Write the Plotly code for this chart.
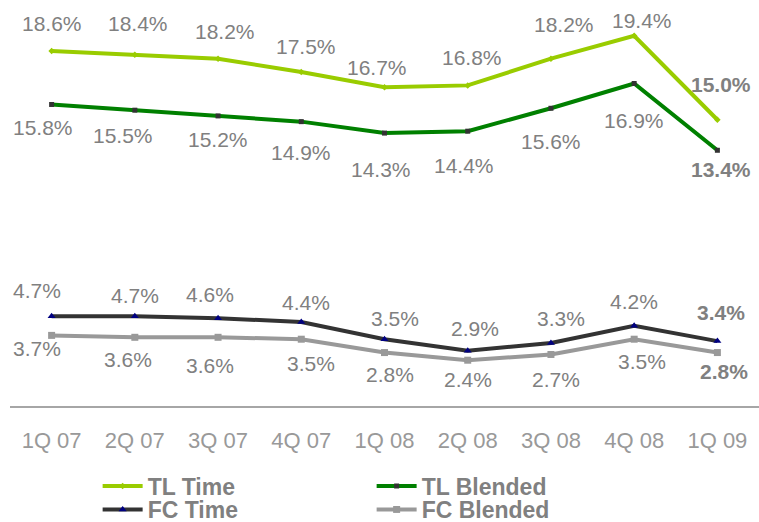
import plotly.graph_objects as go

# ---- data ----
quarters = ["1Q 07", "2Q 07", "3Q 07", "4Q 07", "1Q 08", "2Q 08", "3Q 08", "4Q 08", "1Q 09"]
tl_time = [18.6, 18.4, 18.2, 17.5, 16.7, 16.8, 18.2, 19.4, 15.0]
tl_blended = [15.8, 15.5, 15.2, 14.9, 14.3, 14.4, 15.6, 16.9, 13.4]
fc_time = [4.7, 4.7, 4.6, 4.4, 3.5, 2.9, 3.3, 4.2, 3.4]
fc_blended = [3.7, 3.6, 3.6, 3.5, 2.8, 2.4, 2.7, 3.5, 2.8]

# ---- label placement styles (pixel nudges of the value labels) ----
tl_time_dx = [0, 3, 7, 5, -8, 4, 13, 8, 4]
tl_time_dy = [28, 31, 27, 26, 20, 28, 34, 15, 35]
tl_blended_dx = [-9, -12, 0, 0, -4, -4, 0, 0, 4]
tl_blended_dy = [-23, -25, -24, -31, -36, -34, -33, -37, -19]
fc_time_dx = [-15, 0, -8, 5, 10, 7, 10, 0, 4]
fc_time_dy = [26, 21, 24, 20, 21, 22, 25, 24, 29]
fc_blended_dx = [-15, -7, -8, 10, 5, 0, 5, 8, 7]
fc_blended_dy = [-13, -22, -28, -24, -22, -19, -25, -22, -19]

FONT = "Liberation Sans, Arial, sans-serif"
GRAY = "#808080"

series = [
    # name, values, line color, marker color, symbol, msize, dx, dy, legend
    ("TL Time", tl_time, "#99CC00", "#99CC00", "diamond", 5, tl_time_dx, tl_time_dy, "legend"),
    ("TL Blended", tl_blended, "#008000", "#333333", "square", 5, tl_blended_dx, tl_blended_dy, "legend"),
    ("FC Time", fc_time, "#333333", "#000080", "triangle-up", 7, fc_time_dx, fc_time_dy, "legend2"),
    ("FC Blended", fc_blended, "#999999", "#999999", "square", 7, fc_blended_dx, fc_blended_dy, "legend2"),
]

fig = go.Figure()
annotations = []
for name, vals, lc, mc, sym, ms, dxs, dys, lg in series:
    fig.add_trace(go.Scatter(
        x=quarters, y=vals, name=name, mode="lines+markers",
        line=dict(color=lc, width=4),
        marker=dict(color=mc, symbol=sym, size=ms, line=dict(width=0)),
        hoverinfo="skip", legend=lg,
    ))
    n = len(vals)
    for i, (q, v) in enumerate(zip(quarters, vals)):
        last = i == n - 1
        annotations.append(dict(
            x=q, y=v, xref="x", yref="y",
            text=(f"<b>{v:.1f}%</b>" if last else f"{v:.1f}%"),
            showarrow=False,
            font=dict(family=FONT, size=21, color=GRAY),
            xshift=dxs[i], yshift=dys[i],
        ))

legend_common = dict(
    orientation="h", x=0.117, xanchor="left", yanchor="middle",
    xref="paper", yref="container",
    entrywidth=219, itemwidth=40,
    font=dict(family=FONT, size=23, color=GRAY, weight="bold"),
    bgcolor="rgba(0,0,0,0)",
)

fig.update_layout(
    width=759, height=522,
    margin=dict(l=10, r=0, t=10, b=116, autoexpand=False),
    paper_bgcolor="white", plot_bgcolor="white",
    showlegend=True,
    legend=dict(y=0.069, **legend_common),
    legend2=dict(y=0.024, **legend_common),
    annotations=annotations,
    xaxis=dict(
        type="category", range=[-0.5, 8.5],
        showgrid=False, zeroline=False,
        showline=True, linecolor="#A6A6A6", linewidth=2,
        ticks="", ticklabelstandoff=14,
        tickfont=dict(family=FONT, size=22, color="#999999"),
        fixedrange=True,
    ),
    yaxis=dict(
        range=[0, 20.75], showgrid=False, zeroline=False,
        showline=False, showticklabels=False, ticks="",
        fixedrange=True,
    ),
)

fig.write_html(
    "out.html",
    config={"displayModeBar": False},
    post_script="document.body.style.margin='0';document.body.style.padding='0';document.body.style.overflow='hidden';",
)
